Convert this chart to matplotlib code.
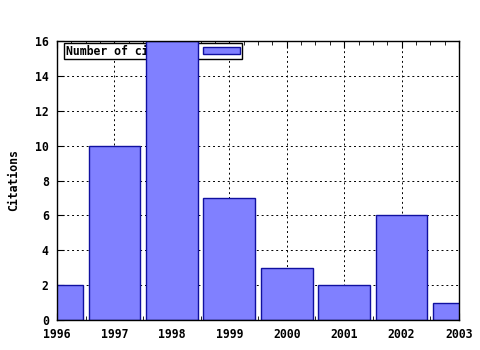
import matplotlib
matplotlib.use("Agg")
import matplotlib.pyplot as plt
from matplotlib.ticker import MultipleLocator

years = [1996, 1997, 1998, 1999, 2000, 2001, 2002, 2003]
citations = [2, 10, 16, 7, 3, 2, 6, 1]
label = "Number of citations"

plt.rcParams['font.family'] = 'DejaVu Sans Mono'
plt.rcParams['font.weight'] = 'bold'
plt.rcParams['axes.labelweight'] = 'bold'
plt.rcParams['font.size'] = 8.3

fig = plt.figure(figsize=(4.8, 3.5), dpi=100)
ax = fig.add_axes([57 / 480, 1 - 320 / 350, (459 - 57) / 480, (320 - 41) / 350])

ax.bar(years, citations, width=0.9, color='#8080ff', edgecolor='#1010a0',
       linewidth=1.0, label=label, zorder=3)

ax.set_xlim(1996, 2003)
ax.set_ylim(0, 16)
ax.xaxis.set_major_locator(MultipleLocator(1))
ax.xaxis.set_minor_locator(MultipleLocator(0.25))
ax.yaxis.set_major_locator(MultipleLocator(2))
ax.tick_params(axis='x', which='both', direction='in', top=True, bottom=True, pad=6)
ax.tick_params(axis='x', which='major', length=5)
ax.tick_params(axis='x', which='minor', length=3)
ax.tick_params(axis='y', direction='in', left=True, right=False, length=5, pad=6)
for s in ax.spines.values():
    s.set_linewidth(1.0)
    s.set_zorder(5)

ax.grid(True, which='major', color='black', linestyle=(0, (2, 3)), linewidth=0.7, zorder=0)
ax.set_axisbelow(True)
ax.set_ylabel("Citations", labelpad=11)

leg = ax.legend(loc='upper left', bbox_to_anchor=(7 / 402, 1 - 2 / 279), borderaxespad=0,
                markerfirst=False, fancybox=False, framealpha=1, edgecolor='black',
                handlelength=3.2, handleheight=0.6, borderpad=0.15, handletextpad=0.6)
leg.get_frame().set_linewidth(1.0)
leg.set_zorder(2)

fig.savefig("out.png", dpi=100)
